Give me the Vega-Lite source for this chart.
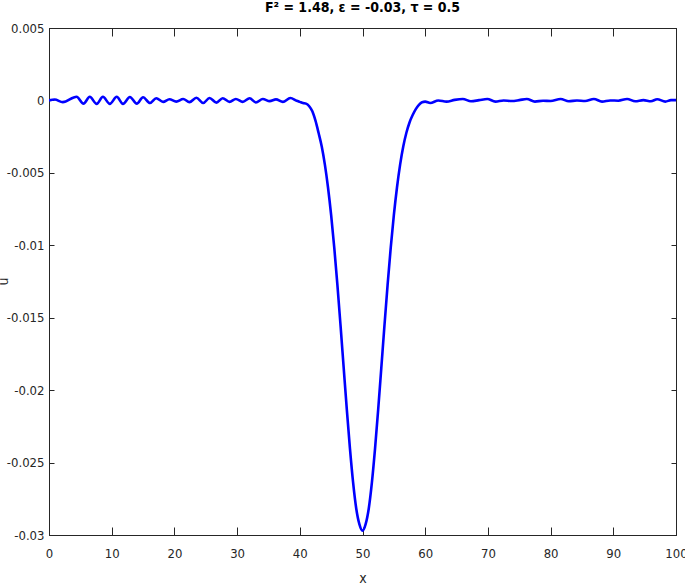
{
  "$schema": "https://vega.github.io/schema/vega-lite/v6.json",
  "autosize": {"type": "none"},
  "padding": {"left": 49, "top": 28, "right": 9, "bottom": 52},
  "width": 627,
  "height": 507,
  "background": "white",
  "title": {
    "text": "F² = 1.48, ε = -0.03, τ = 0.5",
    "font": "Liberation Sans Narrow, DejaVu Sans Condensed, Liberation Sans",
    "fontSize": 14,
    "fontWeight": "bold",
    "color": "#000000",
    "anchor": "middle",
    "offset": 7
  },
  "config": {
    "view": {"stroke": "#262626", "strokeWidth": 1},
    "axis": {
      "grid": false,
      "domainColor": "#262626",
      "tickColor": "#262626",
      "labelColor": "#262626",
      "titleColor": "#262626",
      "labelFont": "Liberation Sans Narrow, DejaVu Sans Condensed, Liberation Sans",
      "titleFont": "Liberation Sans Narrow, DejaVu Sans Condensed, Liberation Sans",
      "labelFontSize": 13,
      "titleFontSize": 14,
      "titleFontWeight": "normal"
    }
  },
  "data": {
    "values": [
      {"x": 0, "u": 0.0},
      {"x": 0.9, "u": 0.00006},
      {"x": 2.2, "u": -0.00012},
      {"x": 4.4, "u": 0.00025},
      {"x": 5.5, "u": -0.00022},
      {"x": 6.5, "u": 0.00025},
      {"x": 7.6, "u": -0.00024},
      {"x": 8.6, "u": 0.00025},
      {"x": 9.7, "u": -0.00024},
      {"x": 10.8, "u": 0.00025},
      {"x": 11.8, "u": -0.00024},
      {"x": 12.9, "u": 0.00024},
      {"x": 14.0, "u": -0.00022},
      {"x": 15.0, "u": 0.00022},
      {"x": 16.1, "u": -0.00018},
      {"x": 17.1, "u": 0.00015},
      {"x": 18.2, "u": -0.0001},
      {"x": 19.2, "u": 0.00008},
      {"x": 20.3, "u": -0.00008},
      {"x": 21.4, "u": 0.0001},
      {"x": 22.4, "u": -0.00012},
      {"x": 23.5, "u": 0.00018},
      {"x": 24.6, "u": -0.00018},
      {"x": 25.6, "u": 0.00017},
      {"x": 26.7, "u": -0.00015},
      {"x": 27.7, "u": 0.00015},
      {"x": 28.8, "u": -0.0001},
      {"x": 29.8, "u": 0.0001},
      {"x": 30.9, "u": -0.0001},
      {"x": 32.0, "u": 0.00015},
      {"x": 33.0, "u": -0.00014},
      {"x": 34.1, "u": 0.0001},
      {"x": 35.2, "u": -0.00005},
      {"x": 36.2, "u": 0.00007},
      {"x": 37.3, "u": -0.0001},
      {"x": 38.5, "u": 0.00017},
      {"x": 39.5, "u": -0.00002},
      {"x": 40.0, "u": -0.0001},
      {"x": 40.5, "u": -0.00018},
      {"x": 41.0, "u": -0.00022},
      {"x": 41.5, "u": -0.0004},
      {"x": 42.0, "u": -0.00075},
      {"x": 42.5, "u": -0.0014},
      {"x": 43.0, "u": -0.00225},
      {"x": 43.5, "u": -0.00318},
      {"x": 44.0, "u": -0.00443},
      {"x": 44.5, "u": -0.00601},
      {"x": 45.0, "u": -0.00792},
      {"x": 45.5, "u": -0.01018},
      {"x": 46.0, "u": -0.01275},
      {"x": 46.5, "u": -0.01555},
      {"x": 47.0, "u": -0.01846},
      {"x": 47.5, "u": -0.02135},
      {"x": 48.0, "u": -0.02404},
      {"x": 48.5, "u": -0.02637},
      {"x": 49.0, "u": -0.02817},
      {"x": 49.5, "u": -0.02925},
      {"x": 50.0, "u": -0.0297},
      {"x": 50.5, "u": -0.02925},
      {"x": 51.0, "u": -0.02817},
      {"x": 51.5, "u": -0.02637},
      {"x": 52.0, "u": -0.02404},
      {"x": 52.5, "u": -0.02135},
      {"x": 53.0, "u": -0.01846},
      {"x": 53.5, "u": -0.01555},
      {"x": 54.0, "u": -0.01275},
      {"x": 54.5, "u": -0.01018},
      {"x": 55.0, "u": -0.00792},
      {"x": 55.5, "u": -0.00601},
      {"x": 56.0, "u": -0.00443},
      {"x": 56.5, "u": -0.00318},
      {"x": 57.0, "u": -0.00223},
      {"x": 57.5, "u": -0.00152},
      {"x": 58.0, "u": -0.00101},
      {"x": 58.5, "u": -0.0006},
      {"x": 59.0, "u": -0.0003},
      {"x": 59.5, "u": -0.00012},
      {"x": 60.0, "u": -0.00008},
      {"x": 60.8, "u": -0.00018},
      {"x": 62.1, "u": 0.0},
      {"x": 63.4, "u": -0.00008},
      {"x": 64.7, "u": 0.00004},
      {"x": 66.0, "u": 0.0001},
      {"x": 67.3, "u": -0.00006},
      {"x": 68.6, "u": 0.00002},
      {"x": 69.9, "u": 0.0001},
      {"x": 71.2, "u": -0.00008},
      {"x": 72.5, "u": 0.0},
      {"x": 73.8, "u": -0.00004},
      {"x": 75.0, "u": 0.00002},
      {"x": 76.2, "u": 0.0001},
      {"x": 77.5, "u": -0.00008},
      {"x": 78.8, "u": -0.00002},
      {"x": 80.0, "u": -0.00004},
      {"x": 81.6, "u": 0.0001},
      {"x": 82.9, "u": -0.00006},
      {"x": 84.2, "u": 0.0},
      {"x": 85.5, "u": -0.00004},
      {"x": 86.9, "u": 0.0001},
      {"x": 88.2, "u": -0.00008},
      {"x": 89.5, "u": 0.0},
      {"x": 90.8, "u": -0.00002},
      {"x": 92.2, "u": 0.0001},
      {"x": 93.5, "u": -0.00006},
      {"x": 94.8, "u": 0.00002},
      {"x": 96.0, "u": -0.00006},
      {"x": 97.0, "u": 0.00008},
      {"x": 98.3, "u": -0.00008},
      {"x": 99.2, "u": 0.00002},
      {"x": 100.0, "u": 0.00002}
    ]
  },
  "layer": [
    {
      "mark": {"type": "line", "color": "#0000FF", "strokeWidth": 2.6, "interpolate": "monotone", "clip": true},
      "encoding": {
        "x": {
          "field": "x", "type": "quantitative",
          "scale": {"domain": [0, 100], "nice": false, "zero": false},
          "axis": {
            "orient": "bottom", "title": "x",
            "values": [0, 10, 20, 30, 40, 50, 60, 70, 80, 90, 100],
            "tickSize": -8, "labelPadding": 20,
            "labelFlush": false,
            "titleY": 47, "titleBaseline": "alphabetic"
          }
        },
        "y": {
          "field": "u", "type": "quantitative",
          "scale": {"domain": [-0.03, 0.005], "nice": false, "zero": false},
          "axis": {
            "orient": "left", "title": "u",
            "values": [-0.03, -0.025, -0.02, -0.015, -0.01, -0.005, 0, 0.005],
            "labelExpr": "'' + datum.value",
            "tickSize": -5, "labelPadding": 10,
            "labelFlush": false,
            "titleX": -39, "titleY": 253
          }
        }
      }
    },
    {
      "mark": {"type": "line", "opacity": 0},
      "encoding": {
        "x": {
          "field": "x", "type": "quantitative",
          "scale": {"domain": [0, 100], "nice": false, "zero": false},
          "axis": {
            "orient": "top", "title": null, "labels": false,
            "values": [0, 10, 20, 30, 40, 50, 60, 70, 80, 90, 100],
            "tickSize": -8
          }
        },
        "y": {
          "field": "u", "type": "quantitative",
          "scale": {"domain": [-0.03, 0.005], "nice": false, "zero": false},
          "axis": {
            "orient": "right", "title": null, "labels": false,
            "values": [-0.03, -0.025, -0.02, -0.015, -0.01, -0.005, 0, 0.005],
            "tickSize": -5
          }
        }
      }
    }
  ],
  "resolve": {"axis": {"x": "independent", "y": "independent"}}
}
